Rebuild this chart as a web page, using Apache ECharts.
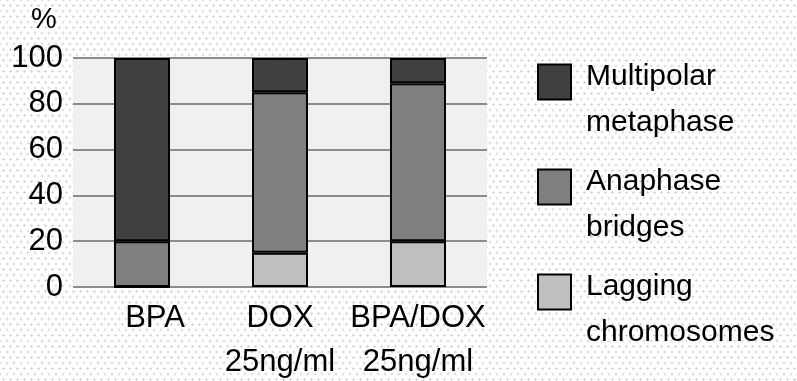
<!DOCTYPE html>
<html>
<head>
<meta charset="utf-8">
<script src="https://cdn.jsdelivr.net/npm/echarts@6/dist/echarts.min.js"></script>
<style>
html,body{margin:0;padding:0;}
body{
  width:797px;height:381px;overflow:hidden;background-color:#ffffff;
  background-image:radial-gradient(circle,#cfcfcf 0.9px,rgba(255,255,255,0) 1.3px),radial-gradient(circle,#cfcfcf 0.9px,rgba(255,255,255,0) 1.3px);
  background-size:7px 11px,7px 11px;
  background-position:0 0,3.5px 5.5px;
}
#chart{width:797px;height:381px;}
</style>
</head>
<body>
<div id="chart"></div>
<script>
const categories = ['BPA', 'DOX\n25ng/ml', 'BPA/DOX\n25ng/ml'];
const seriesNames = ['Lagging chromosomes', 'Anaphase bridges', 'Multipolar metaphase'];
const legendLines = [['Lagging', 'chromosomes'], ['Anaphase', 'bridges'], ['Multipolar', 'metaphase']];
const lagging = [0, 15, 20];
const anaphase = [20, 70, 69];
const multipolar = [80, 15, 11];
const yTicks = [0, 20, 40, 60, 80, 100];

const colors = ['#bfbfbf', '#7f7f7f', '#404040'];
const values = [lagging, anaphase, multipolar];
const SANS = '"Liberation Sans", Arial, sans-serif';

const chart = echarts.init(document.getElementById('chart'), null, {renderer: 'canvas'});

const series = seriesNames.map((n, i) => ({
  name: n,
  type: 'bar',
  stack: 'total',
  barWidth: 56,
  data: values[i],
  itemStyle: {color: colors[i], borderColor: '#000', borderWidth: 2},
  emphasis: {disabled: true}
}));

const legendTops = [26, 131, 236];
const legends = [2, 1, 0].map((si, k) => ({
  data: [seriesNames[si]],
  left: 532,
  top: legendTops[k],
  orient: 'vertical',
  itemWidth: 33,
  itemHeight: 35,
  itemGap: 0,
  icon: 'rect',
  selectedMode: false,
  formatter: () => '{e| }\n{t|' + legendLines[si][0] + '}\n{t|' + legendLines[si][1] + '}',
  itemStyle: {borderColor: '#000', borderWidth: 2},
  textStyle: {
    fontFamily: SANS, fontSize: 30, color: '#000',
    rich: {
      e: {fontSize: 10, lineHeight: 36},
      t: {fontFamily: SANS, fontSize: 30, lineHeight: 46, color: '#000', padding: [0, 0, 0, 10]}
    }
  }
}));

chart.setOption({
  backgroundColor: 'transparent',
  animation: false,
  grid: {left: 73, right: 310, top: 58, bottom: 94, show: true, backgroundColor: '#f0f0f0', borderWidth: 0,
         containLabel: false, outerBoundsMode: 'none'},
  legend: legends,
  xAxis: {
    type: 'category',
    data: categories,
    axisLine: {show: false},
    axisTick: {show: false},
    axisLabel: {
      interval: 0, hideOverlap: false,
      margin: 9, color: '#000', fontFamily: SANS, fontSize: 31, lineHeight: 44,
      formatter: (v, i) => i === 0 ? '{a|' + v + '}' : v,
      rich: {a: {fontFamily: SANS, fontSize: 31, lineHeight: 44, color: '#000', padding: [0, 0, 0, 26]}}
    }
  },
  yAxis: {
    type: 'value',
    min: yTicks[0],
    max: yTicks[yTicks.length - 1],
    interval: 20,
    name: '%',
    nameLocation: 'end',
    nameGap: 24,
    nameTextStyle: {fontFamily: SANS, fontSize: 29, color: '#000', align: 'center', padding: [0, 58, 0, 0]},
    axisLine: {show: false},
    axisTick: {show: false},
    axisLabel: {margin: 10, color: '#000', fontFamily: SANS, fontSize: 31},
    splitLine: {lineStyle: {color: '#8c8c8c', width: 2}}
  },
  series: series
});
</script>
</body>
</html>
